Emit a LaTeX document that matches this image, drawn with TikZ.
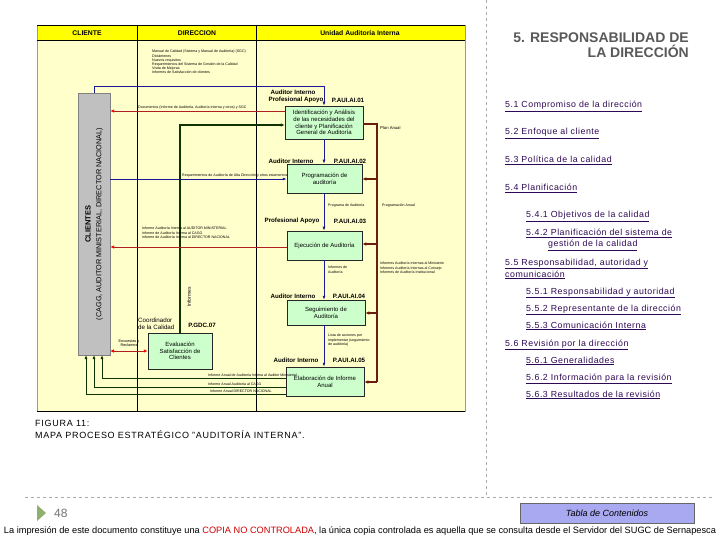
\documentclass[tikz,border=0pt]{standalone}
\usepackage{fontspec}
\setmainfont{Liberation Sans}
\usetikzlibrary{arrows.meta}
\definecolor{diagbg}{HTML}{FFFFCC}
\definecolor{hdr}{HTML}{FFFF00}
\definecolor{boxgreen}{HTML}{CCFFCC}
\definecolor{clgray}{HTML}{C0C0C0}
\definecolor{navy}{HTML}{1A1A99}
\definecolor{dred}{HTML}{B02020}
\definecolor{brownl}{HTML}{6B1E0E}
\definecolor{dkgreen}{HTML}{0F3300}
\definecolor{tocc}{HTML}{2E0854}
\definecolor{titlec}{HTML}{595959}
\definecolor{btn}{HTML}{A9A9F2}
\definecolor{tri}{HTML}{8FAF6F}
\definecolor{dashgray}{HTML}{AAAAAA}
\begin{document}
\begin{tikzpicture}[x=1pt,y=-1pt,
  tiny/.style={font=\fontsize{3.6}{4.2}\selectfont, inner sep=0, align=left},
  proc/.style={draw=black!85, fill=boxgreen, line width=0.5, font=\fontsize{6}{6.8}\selectfont, align=center, inner sep=1},
  role/.style={font=\bfseries\fontsize{6.2}{7}\selectfont, inner sep=0},
  hdrtxt/.style={font=\bfseries\fontsize{6.8}{8}\selectfont, inner sep=0},
  toc/.style={font=\fontsize{8.8}{10}\selectfont\addfontfeatures{LetterSpace=6}, text=tocc, anchor=base west, inner sep=0, align=left},
  ttl/.style={font=\bfseries\fontsize{14}{16}\selectfont, text=titlec, anchor=base east, inner sep=0},
  capt/.style={font=\fontsize{9}{12}\selectfont\addfontfeatures{LetterSpace=8}, anchor=base west, inner sep=0},
  arr/.style={-{Latex[length=4pt,width=3pt]}},
  bluel/.style={navy, line width=0.9, arr},
  redl/.style={dred, line width=0.8, -{Latex[length=4pt,width=3.5pt,color=red]}},
  brl/.style={brownl, line width=1.6},
  grl/.style={dkgreen, line width=1.0, arr}
]
\useasboundingbox (0,0) rectangle (720,540);
\fill[white] (0,0) rectangle (720,540);

% ---------- diagram frame ----------
\fill[diagbg] (37,25) rectangle (465,411);
\fill[hdr] (37,25) rectangle (465,40);
\draw[black!40, line width=0.4] (37,25) rectangle (465,411);
\draw[black, line width=0.6] (37,25) -- (465,25) (37,40) -- (465,40);
\draw[black, line width=0.6] (137,25) -- (137,411) (256,25) -- (256,411);
\draw[black, line width=0.9] (37,411) -- (465,411);
\node[hdrtxt] (hcl) at (87,33) {CLIENTE};
\node[hdrtxt] (hdi) at (197,33) {DIRECCION};
\node[hdrtxt] (hua) at (360,33) {Unidad Auditoría Interna};

\node[tiny, anchor=north west] (dirtxt) at (152,50) {Manual de Calidad (Sistema y Manual de Auditoría) (SGC)\\Dictámenes\\Nuevos requisitos\\Requerimientos del Sistema de Gestión de la Calidad\\Visita de Mejoras\\Informes de Satisfacción de clientes};

% ---------- client box ----------
\node[draw=black!50, fill=clgray, minimum width=32, minimum height=262, inner sep=0] (cli) at (94,224) {};
\node[rotate=90, font=\bfseries\fontsize{7.5}{8}\selectfont, inner sep=0] (clit) at (88,224) {CLIENTES};
\node[rotate=90, font=\fontsize{7.3}{8}\selectfont, inner sep=0] (clis) at (99.5,224) {(CAGG, AUDITOR MINISTERIAL, DIRECTOR NACIONAL)};

% ---------- process boxes ----------
\node[proc, minimum width=78, minimum height=33] (b1) at (324,122.5) {Identificación y Análisis\\de las necesidades del\\cliente y Planificación\\General de Auditoría};
\node[proc, minimum width=75, minimum height=29] (b2) at (324.5,178.5) {Programación de\\auditoría};
\node[proc, minimum width=75, minimum height=29] (b3) at (324.5,245.5) {Ejecución de Auditoría};
\node[proc, minimum width=78, minimum height=25] (b4) at (326,312.5) {Seguimiento de\\Auditoría};
\node[proc, minimum width=78, minimum height=29] (b5) at (325,381.5) {Elaboración de Informe\\Anual};
\node[proc, minimum width=64, minimum height=36] (b6) at (180,351) {Evaluación\\Satisfacción de\\Clientes};

% role labels
\node[role] (r1a) at (293,92) {Auditor Interno};
\node[role] (r1b) at (296,100) {Profesional Apoyo};
\node[role] (c1) at (348,100) {P.AUI.AI.01};
\node[role] (r2) at (291,161) {Auditor Interno};
\node[role] (c2) at (350,161) {P.AUI.AI.02};
\node[role] (r3) at (292,221) {Profesional Apoyo};
\node[role] (c3) at (350,221) {P.AUI.AI.03};
\node[role] (r4) at (293,296) {Auditor Interno};
\node[role] (c4) at (349,296) {P.AUI.AI.04};
\node[role] (r5) at (296,360) {Auditor Interno};
\node[role] (c5) at (349,360) {P.AUI.AI.05};
\node[font=\fontsize{6.2}{6.6}\selectfont, inner sep=0, align=left, anchor=west] (r6) at (138,324) {Coordinador\\de la Calidad};
\node[role] (c6) at (202,325) {P.GDC.07};

% ---------- blue chain ----------
\coordinate (bt1) at (94,86);
\coordinate (bt2) at (324,86);
\draw[bluel] (cli.north) -- (bt1) -- (bt2) -- (b1.north -| bt2);
\draw[bluel] (b1.south -| bt2) -- (b2.north -| bt2);
\draw[bluel] (b2.south -| bt2) -- (b3.north -| bt2);
\draw[bluel] (b3.south -| bt2) -- (b4.north -| bt2);
\draw[bluel] (b4.south -| bt2) -- (b5.north -| bt2);
\coordinate (bl2) at (110,179);
\draw[bluel] (bl2) -- (b2.west |- bl2);
\node[tiny, anchor=south west] (tbl2) at (182,177) {Requerimientos de Auditoría de Alta Dirección y otros estamentos};

% ---------- green main line ----------
\coordinate (g1) at (180,125);
\draw[dkgreen, line width=1.8, -{Latex[length=4pt,width=3.5pt]}] (b6.north) -- (g1) -- (b1.west |- g1);
\node[rotate=90, font=\fontsize{5}{6}\selectfont, inner sep=0] (inf) at (189,297) {Informes};

% ---------- red lines ----------
\coordinate (rd1) at (285,111);
\draw[redl] (rd1) -- (cli.east |- rd1);
\node[tiny, anchor=south west] (trd1) at (138,109.5) {Documentos (Informe de Auditoría, Auditoría Interna y otros) y SGC};
\coordinate (rd2) at (287,247);
\draw[redl] (rd2) -- (cli.east |- rd2);
\node[tiny, anchor=north west] (trd2) at (142,227) {Informe Auditoría Interna al AUDITOR MINISTERIAL\\Informe de Auditoría Interna al CAGG\\Informe de Auditoría Interna al DIRECTOR NACIONAL};
\coordinate (rd3) at (110,351);
\draw[dred, line width=0.8, {Latex[length=4pt,width=3.5pt,color=red]}-{Latex[length=4pt,width=3.5pt,color=red]}] (rd3) -- (b6.west);
\node[font=\fontsize{3.8}{4.4}\selectfont, inner sep=0, align=center] (enc) at (129,343.5) {Encuestas y\\Reclamos};

% ---------- brown line ----------
\coordinate (br0) at (377,124);
\coordinate (brE) at (377,382);
\draw[brl] (b1.east |- br0) -- (br0) -- (brE);
\foreach \yy/\bx in {179/b2,244/b3,313/b4,382/b5}{
  \draw[brownl, line width=1.6, -{Latex[length=4pt,width=3.5pt]}] (377,\yy) -- (\bx.east |- 0,\yy);
}
\node[tiny, anchor=west, font=\fontsize{4.2}{5}\selectfont] (plan) at (380,128) {Plan Anual};
\node[tiny, anchor=west] (prog1) at (328,206) {Programa de Auditoría};
\node[tiny, anchor=west] (prog2) at (382,206) {Programación Anual};
\node[tiny, anchor=north west] (infa) at (328,266) {Informes de\\Auditoría};
\node[tiny, anchor=north west] (infb) at (380,262) {Informes Auditoría Internas al Ministerio\\Informes Auditoría Internas al Consejo\\Informes de Auditoría Institucional};
\node[tiny, anchor=north west] (lista) at (328,334) {Lista de acciones por\\implementar (seguimiento\\de auditoría)};

% ---------- bottom green lines ----------
\foreach \xx/\yy in {102/378,94/387,86/394}{
  \draw[grl] (b5.west |- 0,\yy) -- (\xx,\yy) -- (\xx,355);
}
\node[tiny, anchor=south west] (ia1) at (208,376.5) {Informe Anual de Auditoría Interna al Auditor Ministerial};
\node[tiny, anchor=south west] (ia2) at (208,385.5) {Informe Anual Auditoría al CAGG};
\node[tiny, anchor=south west] (ia3) at (210,392.5) {Informe Anual DIRECTOR NACIONAL};

% ---------- page elements ----------
\draw[dashgray, dashed, line width=0.6] (486,0) -- (486,497);
\draw[dashgray, dashed, line width=0.6] (25,497) -- (712,497);

\node[ttl] (title1) at (689,43) {5. RESPONSABILIDAD DE};
\node[ttl] (title2) at (689,58) {LA DIRECCIÓN};

\node[toc] (t51) at (505,108) {\underline{5.1 Compromiso de la dirección}};
\node[toc] (t52) at (505,135) {\underline{5.2 Enfoque al cliente}};
\node[toc] (t53) at (505,163) {\underline{5.3 Política de la calidad}};
\node[toc] (t54) at (505,191) {\underline{5.4 Planificación}};
\node[toc] (t541) at (526,218) {\underline{5.4.1 Objetivos de la calidad}};
\node[toc] (t542) at (526,236) {\underline{5.4.2 Planificación del sistema de}};
\node[toc] (t542b) at (548,247) {\underline{gestión de la calidad}};
\node[toc] (t55) at (505,265) {\underline{5.5 Responsabilidad, autoridad y}};
\node[toc] (t55b) at (505,277) {\underline{comunicación}};
\node[toc] (t551) at (526,294) {\underline{5.5.1 Responsabilidad y autoridad}};
\node[toc] (t552) at (526,311) {\underline{5.5.2 Representante de la dirección}};
\node[toc] (t553) at (526,328) {\underline{5.5.3 Comunicación Interna}};
\node[toc] (t56) at (505,346) {\underline{5.6 Revisión por la dirección}};
\node[toc] (t561) at (526,363) {\underline{5.6.1 Generalidades}};
\node[toc] (t562) at (526,380) {\underline{5.6.2 Información para la revisión}};
\node[toc] (t563) at (526,397) {\underline{5.6.3 Resultados de la revisión}};

\node[capt] (cap1) at (35,426.5) {FIGURA 11:};
\node[capt] (cap2) at (35,438.5) {MAPA PROCESO ESTRATÉGICO "AUDITORÍA INTERNA".};

\fill[tri] (37,505) -- (46,513) -- (37,521) -- cycle;
\node[font=\fontsize{12}{14}\selectfont, text=black!55, anchor=west, inner sep=0] (pg) at (54,513) {48};

\node[draw=black!60, fill=btn, minimum width=174, minimum height=20, inner sep=0, font=\itshape\fontsize{9}{10}\selectfont] (btnn) at (607,513) {Tabla de Contenidos};

\node[inner sep=0] (foot) at (360,531) {\resizebox{712pt}{!}{\fontsize{7}{8}\selectfont La impresión de este documento constituye una \textcolor{red!80!black}{COPIA NO CONTROLADA}, la única copia controlada es aquella que se consulta desde el Servidor del SUGC de Sernapesca}};
\end{tikzpicture}
\end{document}
